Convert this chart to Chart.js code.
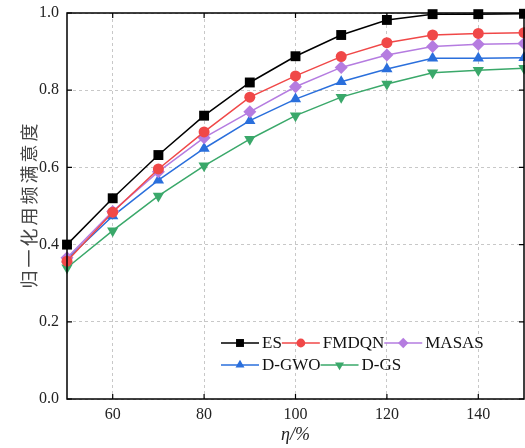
<!DOCTYPE html>
<html>
<head>
<meta charset="utf-8">
<script src="https://cdn.jsdelivr.net/npm/chart.js@4/dist/chart.umd.min.js"></script>
<style>
  html, body { margin: 0; padding: 0; background: #fff; overflow: hidden; }
  #wrap { width: 525px; height: 448px; overflow: hidden; }
</style>
</head>
<body>
<div id="wrap"><canvas id="c" width="525" height="448"></canvas></div>
<script>
// data
const etaValues = [50, 60, 70, 80, 90, 100, 110, 120, 130, 140, 150];
const xTickLabels = [60, 80, 100, 120, 140];
const yTickLabels = [0.0, 0.2, 0.4, 0.6, 0.8, 1.0];

const esData     = [0.400, 0.520, 0.632, 0.734, 0.820, 0.888, 0.943, 0.982, 0.997, 0.997, 0.998];
const fmdqnData  = [0.357, 0.484, 0.596, 0.692, 0.782, 0.837, 0.887, 0.923, 0.943, 0.947, 0.949];
const masasData  = [0.366, 0.486, 0.589, 0.677, 0.744, 0.809, 0.859, 0.891, 0.913, 0.919, 0.921];
const dgwoData   = [0.362, 0.474, 0.567, 0.649, 0.721, 0.777, 0.822, 0.855, 0.883, 0.883, 0.884];
const dgsData    = [0.340, 0.436, 0.526, 0.604, 0.673, 0.734, 0.782, 0.816, 0.845, 0.852, 0.857];

const seriesNames = ['ES', 'FMDQN', 'MASAS', 'D-GWO', 'D-GS'];
const yTitle = '归一化用频满意度';

const serif = "'Liberation Serif', 'DejaVu Serif', serif";

function makeSet(label, data, color, style, radius, rot) {
  return {
    label: label,
    data: etaValues.map((x, i) => ({ x: x, y: data[i] })),
    borderColor: color,
    backgroundColor: color,
    borderWidth: 1.5,
    pointStyle: style,
    pointRadius: radius,
    pointRotation: rot || 0,
    pointBorderWidth: 0,
    pointHoverRadius: radius,
    tension: 0,
    clip: false
  };
}

const datasets = [
  makeSet(seriesNames[0], esData, '#000000', 'rect', 7),
  makeSet(seriesNames[1], fmdqnData, '#f04848', 'circle', 5.5),
  makeSet(seriesNames[2], masasData, '#b57ce0', 'rectRot', 6.5),
  makeSet(seriesNames[3], dgwoData, '#2a6fdc', 'triangle', 6.5),
  makeSet(seriesNames[4], dgsData, '#3aa86a', 'triangle', 6.5, 180)
];

// frame, inward ticks, y title and legend inside the plot
const framePlugin = {
  id: 'frame',
  afterDraw(chart) {
    const ctx = chart.ctx;
    const a = chart.chartArea;
    const xs = chart.scales.x, ys = chart.scales.y;
    ctx.save();
    ctx.strokeStyle = '#000';
    ctx.lineWidth = 1.5;
    ctx.strokeRect(a.left, a.top, a.right - a.left, a.bottom - a.top);
    ctx.lineWidth = 1.2;
    ctx.beginPath();
    xTickLabels.forEach(v => {
      const px = xs.getPixelForValue(v);
      ctx.moveTo(px, a.bottom); ctx.lineTo(px, a.bottom - 5);
      ctx.moveTo(px, a.top); ctx.lineTo(px, a.top + 5);
    });
    yTickLabels.forEach(v => {
      const py = ys.getPixelForValue(v);
      ctx.moveTo(a.left, py); ctx.lineTo(a.left + 5, py);
      ctx.moveTo(a.right, py); ctx.lineTo(a.right - 5, py);
    });
    ctx.stroke();

    // y axis title, letter spaced
    ctx.save();
    ctx.translate(29, (a.top + a.bottom) / 2);
    ctx.rotate(-Math.PI / 2);
    ctx.font = "18px 'Noto Sans CJK SC', sans-serif";
    ctx.letterSpacing = '3px';
    ctx.fillStyle = '#444';
    ctx.textAlign = 'center';
    ctx.textBaseline = 'middle';
    ctx.fillText(yTitle, 1.5, 0);
    ctx.restore();

    // legend
    ctx.font = '17px ' + serif;
    ctx.textBaseline = 'middle';
    const rows = [[0, 1, 2], [3, 4]];
    const startX = a.left + 154;
    const rowY = [a.top + 330, a.top + 352];
    const lineLen = 38;
    rows.forEach((row, r) => {
      let x = startX;
      row.forEach(i => {
        const ds = chart.data.datasets[i];
        const y = rowY[r];
        ctx.strokeStyle = ds.borderColor;
        ctx.lineWidth = 1.5;
        ctx.beginPath();
        ctx.moveTo(x, y); ctx.lineTo(x + lineLen, y);
        ctx.stroke();
        ctx.fillStyle = ds.backgroundColor;
        Chart.helpers.drawPoint(ctx, {
          pointStyle: ds.pointStyle,
          rotation: ds.pointRotation,
          radius: ds.pointRadius * 0.8,
          borderWidth: 0
        }, x + lineLen / 2, y);
        ctx.fillStyle = '#111';
        ctx.fillText(ds.label, x + lineLen + 3, y + 1);
        x += lineLen + 3 + ctx.measureText(ds.label).width;
      });
    });
    ctx.restore();
  }
};

new Chart(document.getElementById('c').getContext('2d'), {
  type: 'line',
  data: { datasets: datasets },
  options: {
    responsive: false,
    animation: false,
    layout: { autoPadding: false, padding: { top: 13, right: 1, left: 29, bottom: 4 } },
    plugins: {
      legend: { display: false },
      tooltip: { enabled: false }
    },
    scales: {
      x: {
        type: 'linear',
        min: 50,
        max: 150,
        afterBuildTicks: s => { s.ticks = xTickLabels.map(v => ({ value: v })); },
        afterFit: s => { s.paddingLeft = 0; s.paddingRight = 0; s.height -= 8; },
        grid: { color: '#c8c8c8', lineWidth: 1, drawTicks: false },
        border: { display: false, dash: [3, 3] },
        ticks: { font: { family: serif, size: 16, lineHeight: 1 }, color: '#222', padding: 8, maxRotation: 0 },
        title: {
          display: true,
          text: 'η/%',
          font: { family: serif, size: 18, style: 'italic', lineHeight: 1 },
          color: '#222',
          padding: { top: 3, bottom: 0 }
        }
      },
      y: {
        min: 0,
        max: 1,
        afterBuildTicks: s => { s.ticks = yTickLabels.map(v => ({ value: v })); },
        afterFit: s => { s.paddingTop = 0; s.paddingBottom = 0; s.width += 2; },
        grid: { color: '#c8c8c8', lineWidth: 1, drawTicks: false },
        border: { display: false, dash: [3, 3] },
        ticks: {
          font: { family: serif, size: 16 },
          color: '#222',
          padding: 8,
          callback: v => Number(v).toFixed(1)
        },
        title: { display: false }
      }
    }
  },
  plugins: [framePlugin]
});
</script>
</body>
</html>
